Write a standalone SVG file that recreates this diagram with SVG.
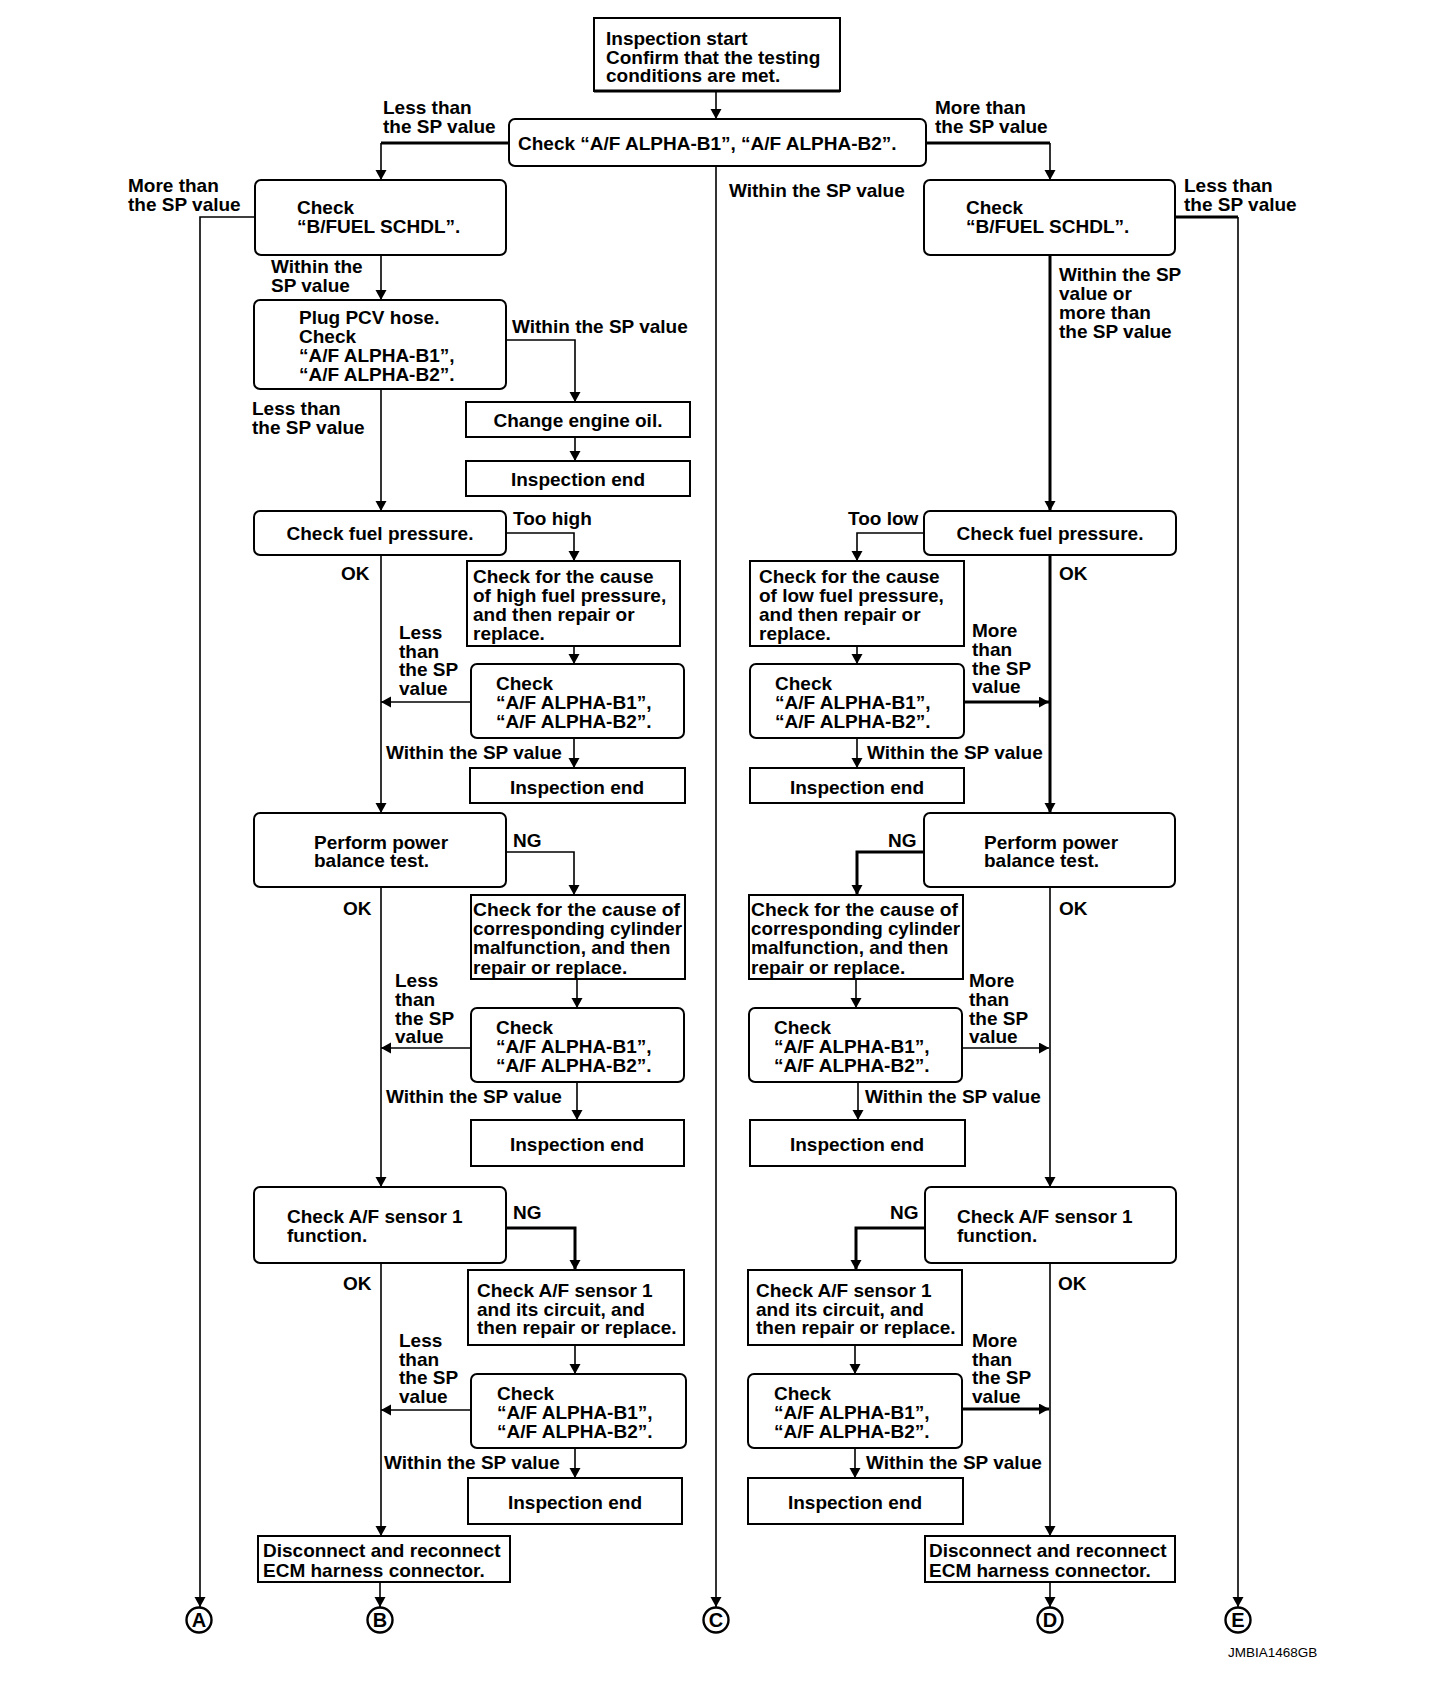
<svg xmlns="http://www.w3.org/2000/svg" width="1456" height="1704" viewBox="0 0 1456 1704">
<style>
.bx{fill:#fff;stroke:#000;stroke-width:2}
.t{font-family:"Liberation Sans",Arial,sans-serif;font-size:19px;font-weight:bold;fill:#000}
.m{text-anchor:middle}
.ln{fill:none;stroke:#000;stroke-width:1.6}
.th{stroke-width:3}
.ci{fill:#fff;stroke:#000;stroke-width:2.4}
.cl{font-family:"Liberation Sans",Arial,sans-serif;font-size:20px;font-weight:bold;fill:#000;text-anchor:middle}
.ft{font-family:"Liberation Sans",Arial,sans-serif;font-size:13.5px;fill:#000}
</style>
<defs>
<marker id="ar" markerUnits="userSpaceOnUse" markerWidth="12" markerHeight="12" refX="10" refY="5.5" orient="auto">
<path d="M0,0 L10,5.5 L0,11 z" fill="#000"/>
</marker>
</defs>
<rect width="1456" height="1704" fill="#fff"/>

<g id="connectors" marker-end="url(#ar)">
<path class="ln" d="M716,91 V119"/>
<path class="ln th" d="M509,143 H381" marker-end="none"/><path class="ln" d="M381,143 V180"/>
<path class="ln th" d="M926,143 H1050" marker-end="none"/><path class="ln" d="M1050,143 V180"/>
<path class="ln" d="M716,166 V1607"/>
<path class="ln" d="M255,217 H200 V1607"/>
<path class="ln th" d="M1175,217 H1238" marker-end="none"/><path class="ln" d="M1238,217 V1607"/>
<path class="ln" d="M381,255 V300"/>
<path class="ln" d="M506,340 H575 V402"/>
<path class="ln" d="M575,437 V461"/>
<path class="ln" d="M381,389 V511"/>
<path class="ln" d="M506,533 H574 V561"/>
<path class="ln" d="M381,555 V813"/>
<path class="ln" d="M574,646 V664"/>
<path class="ln" d="M471,702 H381"/>
<path class="ln" d="M574,738 V768"/>
<path class="ln" d="M506,852 H574 V895"/>
<path class="ln" d="M381,887 V1187"/>
<path class="ln" d="M577,979 V1008"/>
<path class="ln" d="M471,1048 H381"/>
<path class="ln" d="M577,1082 V1120"/>
<path class="ln th" d="M506,1228 H575 V1270"/>
<path class="ln" d="M381,1263 V1536"/>
<path class="ln" d="M575,1345 V1374"/>
<path class="ln" d="M471,1410 H381"/>
<path class="ln" d="M575,1448 V1478"/>
<path class="ln" d="M380,1582 V1607"/>
<path class="ln th" d="M1050,255 V511"/>
<path class="ln" d="M924,533 H857 V561"/>
<path class="ln th" d="M1050,555 V813"/>
<path class="ln" d="M857,646 V664"/>
<path class="ln th" d="M964,702 H1049"/>
<path class="ln" d="M857,738 V768"/>
<path class="ln th" d="M924,852 H857 V895"/>
<path class="ln" d="M1050,887 V1187"/>
<path class="ln" d="M856,979 V1008"/>
<path class="ln" d="M962,1048 H1049"/>
<path class="ln" d="M858,1082 V1120"/>
<path class="ln th" d="M925,1228 H856 V1270"/>
<path class="ln" d="M1050,1263 V1536"/>
<path class="ln" d="M855,1345 V1374"/>
<path class="ln th" d="M962,1409 H1049"/>
<path class="ln" d="M855,1448 V1478"/>
<path class="ln" d="M1050,1582 V1607"/>
</g>

<g id="labels" class="t">
<text x="383" y="114">Less than</text><text x="383" y="133">the SP value</text>
<text x="935" y="114">More than</text><text x="935" y="133">the SP value</text>
<text x="128" y="192">More than</text><text x="128" y="211">the SP value</text>
<text x="1184" y="192">Less than</text><text x="1184" y="211">the SP value</text>
<text x="729" y="197">Within the SP value</text>
<text x="271" y="273">Within the</text><text x="271" y="292">SP value</text>
<text x="1059" y="281">Within the SP</text><text x="1059" y="300">value or</text><text x="1059" y="319">more than</text><text x="1059" y="338">the SP value</text>
<text x="512" y="333">Within the SP value</text>
<text x="252" y="415">Less than</text><text x="252" y="434">the SP value</text>
<text x="513" y="525">Too high</text>
<text x="848" y="525">Too low</text>
<text x="341" y="580">OK</text><text x="1059" y="580">OK</text>
<text x="399" y="639">Less</text><text x="399" y="658">than</text><text x="399" y="676">the SP</text><text x="399" y="695">value</text>
<text x="972" y="637">More</text><text x="972" y="656">than</text><text x="972" y="675">the SP</text><text x="972" y="693">value</text>
<text x="386" y="759">Within the SP value</text><text x="867" y="759">Within the SP value</text>
<text x="513" y="847">NG</text><text x="888" y="847">NG</text>
<text x="343" y="915">OK</text><text x="1059" y="915">OK</text>
<text x="395" y="987">Less</text><text x="395" y="1006">than</text><text x="395" y="1025">the SP</text><text x="395" y="1043">value</text>
<text x="969" y="987">More</text><text x="969" y="1006">than</text><text x="969" y="1025">the SP</text><text x="969" y="1043">value</text>
<text x="386" y="1103">Within the SP value</text><text x="865" y="1103">Within the SP value</text>
<text x="513" y="1219">NG</text><text x="890" y="1219">NG</text>
<text x="343" y="1290">OK</text><text x="1058" y="1290">OK</text>
<text x="399" y="1347">Less</text><text x="399" y="1366">than</text><text x="399" y="1384">the SP</text><text x="399" y="1403">value</text>
<text x="972" y="1347">More</text><text x="972" y="1366">than</text><text x="972" y="1384">the SP</text><text x="972" y="1403">value</text>
<text x="384" y="1469">Within the SP value</text><text x="866" y="1469">Within the SP value</text>
</g>

<g id="start"><rect class="bx" x="594" y="18" width="246" height="73"/><path d="M594,91 H840" stroke="#000" stroke-width="3"/>
<text class="t" x="606" y="45">Inspection start</text><text class="t" x="606" y="64">Confirm that the testing</text><text class="t" x="606" y="82">conditions are met.</text></g>
<g id="alpha0"><rect class="bx" x="509" y="119" width="417" height="47" rx="6"/><text class="t" x="518" y="150">Check “A/F ALPHA-B1”, “A/F ALPHA-B2”.</text></g>
<g id="bfuelL"><rect class="bx" x="255" y="180" width="251" height="75" rx="6"/><text class="t" x="297" y="214">Check</text><text class="t" x="297" y="233">“B/FUEL SCHDL”.</text></g>
<g id="bfuelR"><rect class="bx" x="924" y="180" width="251" height="75" rx="6"/><text class="t" x="966" y="214">Check</text><text class="t" x="966" y="233">“B/FUEL SCHDL”.</text></g>
<g id="pcv"><rect class="bx" x="254" y="300" width="252" height="89" rx="6"/><text class="t" x="299" y="324">Plug PCV hose.</text><text class="t" x="299" y="343">Check</text><text class="t" x="299" y="362">“A/F ALPHA-B1”,</text><text class="t" x="299" y="381">“A/F ALPHA-B2”.</text></g>
<g id="oil"><rect class="bx" x="466" y="402" width="224" height="35"/><text class="t m" x="578" y="427">Change engine oil.</text></g>
<g id="end0"><rect class="bx" x="466" y="461" width="224" height="35"/><text class="t m" x="578" y="486">Inspection end</text></g>
<g id="fuelL"><rect class="bx" x="254" y="511" width="252" height="44" rx="6"/><text class="t m" x="380" y="540">Check fuel pressure.</text></g>
<g id="fuelR"><rect class="bx" x="924" y="511" width="252" height="44" rx="6"/><text class="t m" x="1050" y="540">Check fuel pressure.</text></g>
<g id="causeHigh"><rect class="bx" x="467" y="561" width="213" height="85"/><text class="t" x="473" y="583">Check for the cause</text><text class="t" x="473" y="602">of high fuel pressure,</text><text class="t" x="473" y="621">and then repair or</text><text class="t" x="473" y="640">replace.</text></g>
<g id="alphaL1"><rect class="bx" x="471" y="664" width="213" height="74" rx="6"/><text class="t" x="496" y="690">Check</text><text class="t" x="496" y="709">“A/F ALPHA-B1”,</text><text class="t" x="496" y="728">“A/F ALPHA-B2”.</text></g>
<g id="endL1"><rect class="bx" x="470" y="768" width="215" height="35"/><text class="t m" x="577" y="794">Inspection end</text></g>
<g id="causeLow"><rect class="bx" x="750" y="561" width="214" height="85"/><text class="t" x="759" y="583">Check for the cause</text><text class="t" x="759" y="602">of low fuel pressure,</text><text class="t" x="759" y="621">and then repair or</text><text class="t" x="759" y="640">replace.</text></g>
<g id="alphaR1"><rect class="bx" x="750" y="664" width="214" height="74" rx="6"/><text class="t" x="775" y="690">Check</text><text class="t" x="775" y="709">“A/F ALPHA-B1”,</text><text class="t" x="775" y="728">“A/F ALPHA-B2”.</text></g>
<g id="endR1"><rect class="bx" x="750" y="768" width="214" height="35"/><text class="t m" x="857" y="794">Inspection end</text></g>
<g id="powerL"><rect class="bx" x="254" y="813" width="252" height="74" rx="6"/><text class="t" x="314" y="849">Perform power</text><text class="t" x="314" y="867">balance test.</text></g>
<g id="powerR"><rect class="bx" x="924" y="813" width="251" height="74" rx="6"/><text class="t" x="984" y="849">Perform power</text><text class="t" x="984" y="867">balance test.</text></g>
<g id="cylL"><rect class="bx" x="471" y="895" width="214" height="84"/><text class="t" x="473" y="916" textLength="207" lengthAdjust="spacingAndGlyphs">Check for the cause of</text><text class="t" x="473" y="935" textLength="209" lengthAdjust="spacingAndGlyphs">corresponding cylinder</text><text class="t" x="473" y="954">malfunction, and then</text><text class="t" x="473" y="974">repair or replace.</text></g>
<g id="alphaL2"><rect class="bx" x="471" y="1008" width="213" height="74" rx="6"/><text class="t" x="496" y="1034">Check</text><text class="t" x="496" y="1053">“A/F ALPHA-B1”,</text><text class="t" x="496" y="1072">“A/F ALPHA-B2”.</text></g>
<g id="endL2"><rect class="bx" x="471" y="1120" width="213" height="46"/><text class="t m" x="577" y="1151">Inspection end</text></g>
<g id="cylR"><rect class="bx" x="749" y="895" width="214" height="84"/><text class="t" x="751" y="916" textLength="207" lengthAdjust="spacingAndGlyphs">Check for the cause of</text><text class="t" x="751" y="935" textLength="209" lengthAdjust="spacingAndGlyphs">corresponding cylinder</text><text class="t" x="751" y="954">malfunction, and then</text><text class="t" x="751" y="974">repair or replace.</text></g>
<g id="alphaR2"><rect class="bx" x="749" y="1008" width="213" height="74" rx="6"/><text class="t" x="774" y="1034">Check</text><text class="t" x="774" y="1053">“A/F ALPHA-B1”,</text><text class="t" x="774" y="1072">“A/F ALPHA-B2”.</text></g>
<g id="endR2"><rect class="bx" x="750" y="1120" width="215" height="46"/><text class="t m" x="857" y="1151">Inspection end</text></g>
<g id="sensorL"><rect class="bx" x="254" y="1187" width="252" height="76" rx="6"/><text class="t" x="287" y="1223">Check A/F sensor 1</text><text class="t" x="287" y="1242">function.</text></g>
<g id="sensorR"><rect class="bx" x="925" y="1187" width="251" height="76" rx="6"/><text class="t" x="957" y="1223">Check A/F sensor 1</text><text class="t" x="957" y="1242">function.</text></g>
<g id="circL"><rect class="bx" x="468" y="1270" width="216" height="75"/><text class="t" x="477" y="1297">Check A/F sensor 1</text><text class="t" x="477" y="1316">and its circuit, and</text><text class="t" x="477" y="1334">then repair or replace.</text></g>
<g id="alphaL3"><rect class="bx" x="471" y="1374" width="215" height="74" rx="6"/><text class="t" x="497" y="1400">Check</text><text class="t" x="497" y="1419">“A/F ALPHA-B1”,</text><text class="t" x="497" y="1438">“A/F ALPHA-B2”.</text></g>
<g id="endL3"><rect class="bx" x="468" y="1478" width="214" height="46"/><text class="t m" x="575" y="1509">Inspection end</text></g>
<g id="circR"><rect class="bx" x="748" y="1270" width="214" height="75"/><text class="t" x="756" y="1297">Check A/F sensor 1</text><text class="t" x="756" y="1316">and its circuit, and</text><text class="t" x="756" y="1334">then repair or replace.</text></g>
<g id="alphaR3"><rect class="bx" x="748" y="1374" width="214" height="74" rx="6"/><text class="t" x="774" y="1400">Check</text><text class="t" x="774" y="1419">“A/F ALPHA-B1”,</text><text class="t" x="774" y="1438">“A/F ALPHA-B2”.</text></g>
<g id="endR3"><rect class="bx" x="748" y="1478" width="215" height="46"/><text class="t m" x="855" y="1509">Inspection end</text></g>
<g id="discL"><rect class="bx" x="258" y="1536" width="252" height="46"/><text class="t" x="263" y="1557">Disconnect and reconnect</text><text class="t" x="263" y="1577">ECM harness connector.</text></g>
<g id="discR"><rect class="bx" x="925" y="1536" width="250" height="46"/><text class="t" x="929" y="1557">Disconnect and reconnect</text><text class="t" x="929" y="1577">ECM harness connector.</text></g>
<g id="A"><circle class="ci" cx="199" cy="1620" r="12.5"/><text class="cl" x="199" y="1627">A</text></g>
<g id="B"><circle class="ci" cx="380" cy="1620" r="12.5"/><text class="cl" x="380" y="1627">B</text></g>
<g id="C"><circle class="ci" cx="716" cy="1620" r="12.5"/><text class="cl" x="716" y="1627">C</text></g>
<g id="D"><circle class="ci" cx="1050" cy="1620" r="12.5"/><text class="cl" x="1050" y="1627">D</text></g>
<g id="E"><circle class="ci" cx="1238" cy="1620" r="12.5"/><text class="cl" x="1238" y="1627">E</text></g>
<text class="ft" x="1228" y="1657">JMBIA1468GB</text>
</svg>
